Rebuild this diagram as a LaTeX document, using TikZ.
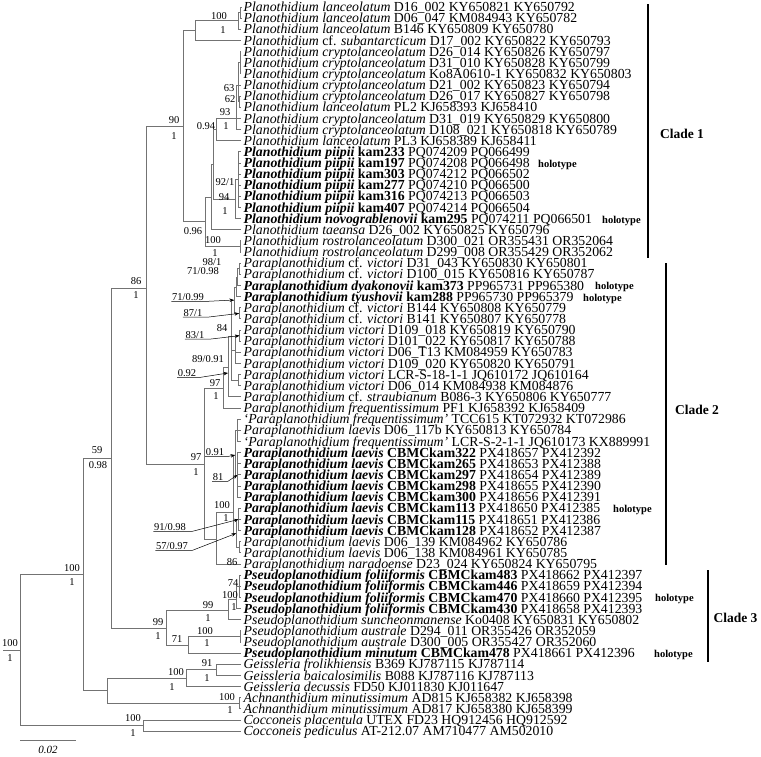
\documentclass[tikz,border=0pt]{standalone}
\usepackage{fontspec}
\setmainfont{Liberation Serif}
\usetikzlibrary{positioning,arrows.meta}

\begin{document}
\begin{tikzpicture}[x=1pt,y=-1pt,
    br/.style={draw=black!55,line width=0.9pt},
    taxon/.style={anchor=base west,inner sep=0pt,xshift=2.5pt,yshift=-4.6pt,font=\fontsize{13.8}{13.8}\selectfont},
    sup/.style={inner sep=0.5pt,font=\fontsize{10.5}{10.5}\selectfont},
    holo/.style={anchor=base west,inner sep=0pt,yshift=-4.4pt,font=\fontsize{10.5}{10.5}\selectfont\bfseries},
    pt/.style={draw=black,line width=0.5pt,-{Stealth[length=4.5pt,width=3.5pt]}},
    cbar/.style={line width=2.7pt},
    clade/.style={font=\fontsize{13.5}{13.5}\selectfont\bfseries}]

\useasboundingbox (0,0) rectangle (761,756);

\foreach \i/\txt in {
  1/{\textit{Planothidium lanceolatum} D16\_002 KY650821 KY650792},
  2/{\textit{Planothidium lanceolatum} D06\_047 KM084943 KY650782},
  3/{\textit{Planothidium lanceolatum} B146 KY650809 KY650780},
  4/{\textit{Planothidium} cf. \textit{subantarcticum} D17\_002 KY650822 KY650793},
  5/{\textit{Planothidium cryptolanceolatum} D26\_014 KY650826 KY650797},
  6/{\textit{Planothidium cryptolanceolatum} D31\_010 KY650828 KY650799},
  7/{\textit{Planothidium cryptolanceolatum} Ko8A0610-1 KY650832 KY650803},
  8/{\textit{Planothidium cryptolanceolatum} D21\_002 KY650823 KY650794},
  9/{\textit{Planothidium cryptolanceolatum} D26\_017 KY650827 KY650798},
  10/{\textit{Planothidium lanceolatum} PL2 KJ658393 KJ658410},
  11/{\textit{Planothidium cryptolanceolatum} D31\_019 KY650829 KY650800},
  12/{\textit{Planothidium cryptolanceolatum} D108\_021 KY650818 KY650789},
  13/{\textit{Planothidium lanceolatum} PL3 KJ658389 KJ658411},
  14/{\textbf{\textit{Planothidium piipii} kam233} PQ074209 PQ066499},
  15/{\textbf{\textit{Planothidium piipii} kam197} PQ074208 PQ066498},
  16/{\textbf{\textit{Planothidium piipii} kam303} PQ074212 PQ066502},
  17/{\textbf{\textit{Planothidium piipii} kam277} PQ074210 PQ066500},
  18/{\textbf{\textit{Planothidium piipii} kam316} PQ074213 PQ066503},
  19/{\textbf{\textit{Planothidium piipii} kam407} PQ074214 PQ066504},
  20/{\textbf{\textit{Planothidium novograblenovii} kam295} PQ074211 PQ066501},
  21/{\textit{Planothidium taeansa} D26\_002 KY650825 KY650796},
  22/{\textit{Planothidium rostrolanceolatum} D300\_021 OR355431 OR352064},
  23/{\textit{Planothidium rostrolanceolatum} D299\_008 OR355429 OR352062},
  24/{\textit{Paraplanothidium} cf. \textit{victori} D31\_043 KY650830 KY650801},
  25/{\textit{Paraplanothidium} cf. \textit{victori} D100\_015 KY650816 KY650787},
  26/{\textbf{\textit{Paraplanothidium dyakonovii} kam373} PP965731 PP965380},
  27/{\textbf{\textit{Paraplanothidium tyushovii} kam288} PP965730 PP965379},
  28/{\textit{Paraplanothidium} cf. \textit{victori} B144 KY650808 KY650779},
  29/{\textit{Paraplanothidium} cf. \textit{victori} B141 KY650807 KY650778},
  30/{\textit{Paraplanothidium victori} D109\_018 KY650819 KY650790},
  31/{\textit{Paraplanothidium victori} D101\_022 KY650817 KY650788},
  32/{\textit{Paraplanothidium victori} D06\_T13 KM084959 KY650783},
  33/{\textit{Paraplanothidium victori} D109\_020 KY650820 KY650791},
  34/{\textit{Paraplanothidium victori} LCR-S-18-1-1 JQ610172 JQ610164},
  35/{\textit{Paraplanothidium victori} D06\_014 KM084938 KM084876},
  36/{\textit{Paraplanothidium} cf. \textit{straubianum} B086-3 KY650806 KY650777},
  37/{\textit{Paraplanothidium frequentissimum} PF1 KJ658392 KJ658409},
  38/{\textit{‘Paraplanothidium frequentissimum’} TCC615 KT072932 KT072986},
  39/{\textit{Paraplanothidium laevis} D06\_117b KY650813 KY650784},
  40/{\textit{‘Paraplanothidium frequentissimum’} LCR-S-2-1-1 JQ610173 KX889991},
  41/{\textbf{\textit{Paraplanothidium laevis} CBMCkam322} PX418657 PX412392},
  42/{\textbf{\textit{Paraplanothidium laevis} CBMCkam265} PX418653 PX412388},
  43/{\textbf{\textit{Paraplanothidium laevis} CBMCkam297} PX418654 PX412389},
  44/{\textbf{\textit{Paraplanothidium laevis} CBMCkam298} PX418655 PX412390},
  45/{\textbf{\textit{Paraplanothidium laevis} CBMCkam300} PX418656 PX412391},
  46/{\textbf{\textit{Paraplanothidium laevis} CBMCkam113} PX418650 PX412385},
  47/{\textbf{\textit{Paraplanothidium laevis} CBMCkam115} PX418651 PX412386},
  48/{\textbf{\textit{Paraplanothidium laevis} CBMCkam128} PX418652 PX412387},
  49/{\textit{Paraplanothidium laevis} D06\_139 KM084962 KY650786},
  50/{\textit{Paraplanothidium laevis} D06\_138 KM084961 KY650785},
  51/{\textit{Paraplanothidium naradoense} D23\_024 KY650824 KY650795},
  52/{\textbf{\textit{Pseudoplanothidium foliiformis} CBMCkam483} PX418662 PX412397},
  53/{\textbf{\textit{Pseudoplanothidium foliiformis} CBMCkam446} PX418659 PX412394},
  54/{\textbf{\textit{Pseudoplanothidium foliiformis} CBMCkam470} PX418660 PX412395},
  55/{\textbf{\textit{Pseudoplanothidium foliiformis} CBMCkam430} PX418658 PX412393},
  56/{\textit{Pseudoplanothidium suncheonmanense} Ko0408 KY650831 KY650802},
  57/{\textit{Pseudoplanothidium australe} D294\_011 OR355426 OR352059},
  58/{\textit{Pseudoplanothidium australe} D300\_005 OR355427 OR352060},
  59/{\textbf{\textit{Pseudoplanothidium minutum} CBMCkam478} PX418661 PX412396},
  60/{\textit{Geissleria frolikhiensis} B369 KJ787115 KJ787114},
  61/{\textit{Geissleria baicalosimilis} B088 KJ787116 KJ787113},
  62/{\textit{Geissleria decussis} FD50 KJ011830 KJ011647},
  63/{\textit{Achnanthidium minutissimum} AD815 KJ658382 KJ658398},
  64/{\textit{Achnanthidium minutissimum} AD817 KJ658380 KJ658399},
  65/{\textit{Cocconeis placentula} UTEX FD23 HQ912456 HQ912592},
  66/{\textit{Cocconeis pediculus} AT-212.07 AM710477 AM502010}}
{
  \coordinate (t\i) at (241,{7+(\i-1)*11.14});
  \node[taxon] (l\i) at (t\i) {\txt};
}

\coordinate (rootstem) at (3,650);
\coordinate (root) at (20,650);
\coordinate (nA) at (83,574);
\coordinate (ncoc) at (143,725.6);
\coordinate (n59) at (111,458);
\coordinate (ngach) at (107,690.7);
\coordinate (n86) at (146,288);
\coordinate (nps) at (166,628.5);
\coordinate (n90) at (183,126.5);
\coordinate (n97b) at (204,464);
\coordinate (n100a) at (195,30.7);
\coordinate (n096) at (205,221.9);
\coordinate (nL) at (238,20.9);
\coordinate (nL12) at (240.5,12.6);
\coordinate (nro) at (240,246.5);
\coordinate (ny) at (211,197.3);
\coordinate (nz) at (213.5,164.7);
\coordinate (n094) at (216,129.4);
\coordinate (n93) at (236,118.4);
\coordinate (n63) at (238,85);
\coordinate (nc) at (240,62.7);
\coordinate (n62) at (239.5,101.7);
\coordinate (n94) at (235,199.2);
\coordinate (npii) at (238.5,179.7);
\coordinate (n97a) at (223,388.5);
\coordinate (n089) at (228,367);
\coordinate (n092) at (228,373);
\coordinate (nvt) at (231,336);
\coordinate (ntop) at (234,300);
\coordinate (n71c) at (236,287);
\coordinate (n71b) at (237.5,277.2);
\coordinate (n98) at (239.5,268.8);
\coordinate (n87) at (239,313.4);
\coordinate (n84) at (235.5,350);
\coordinate (n83) at (239.5,335.7);
\coordinate (nv2) at (238.5,380.2);
\coordinate (n100c) at (216,539.5);
\coordinate (nlae) at (233,512);
\coordinate (nl1) at (235,455);
\coordinate (n091) at (237,430.3);
\coordinate (n81) at (237.5,475);
\coordinate (n57) at (236,533.4);
\coordinate (n91) at (238.5,519.4);
\coordinate (n86b) at (239,547.3);
\coordinate (n99b) at (228,610);
\coordinate (nf100) at (236,599);
\coordinate (nf74) at (239.5,586.3);
\coordinate (n71d) at (188,645);
\coordinate (naus) at (240,636.4);
\coordinate (ngeis) at (186,678.2);
\coordinate (ng91) at (216,669.9);
\coordinate (nach) at (239,703.3);

\draw[br] (rootstem) -- (root);
\foreach \p/\c in {root/nA,root/ncoc,nA/n59,nA/ngach,n59/n86,n59/nps,
    n86/n90,n86/n97b,n90/n100a,n90/n096,n100a/nL,n100a/t4,nL/nL12,nL/t3,
    nL12/t1,nL12/t2,n096/ny,n096/nro,nro/t22,nro/t23,ny/nz,ny/t21,
    nz/n094,nz/n94,n094/n93,n094/t13,n93/n63,n93/t11,n93/t12,
    n63/nc,n63/t8,n63/n62,nc/t5,nc/t6,nc/t7,n62/t9,n62/t10,
    n94/npii,n94/t20,npii/t14,npii/t15,npii/t16,npii/t17,npii/t18,npii/t19,
    n97b/n97a,n97b/n100c,n97a/n089,n97a/t37,n089/nvt,n089/t36,
    nvt/ntop,nvt/n84,nvt/nv2,ntop/n71c,ntop/n87,n71c/n71b,n71c/t27,
    n71b/n98,n71b/t26,n98/t24,n98/t25,n87/t28,n87/t29,
    n84/n83,n84/t32,n84/t33,n83/t30,n83/t31,nv2/t34,nv2/t35,
    n100c/nlae,n100c/t51,nlae/nl1,nlae/n57,nl1/n091,nl1/n81,
    n091/t38,n091/t39,n091/t40,n81/t41,n81/t42,n81/t43,n81/t44,n81/t45,
    n57/n91,n57/n86b,n91/t46,n91/t47,n91/t48,n86b/t49,n86b/t50,
    nps/n99b,nps/n71d,n99b/nf100,n99b/t56,nf100/nf74,nf100/t55,
    nf74/t52,nf74/t53,nf74/t54,n71d/naus,n71d/t59,naus/t57,naus/t58,
    ngach/ngeis,ngach/nach,ngeis/ng91,ngeis/t62,ng91/t60,ng91/t61,
    nach/t63,nach/t64,ncoc/t65,ncoc/t66}
  \draw[br] (\p) |- (\c);

\foreach \x/\y/\s [count=\k] in {219/16/100,223/30/1,174/120/90,174/136/1,
    229/88/63,230/99/62,225/112/93,226/126/1,206/126/0.94,
    225/182/{92/1},224/197/94,225/211/1,193/231/0.96,213/240/100,215/253/1,
    136/281/86,136/295/1,212/262/{98/1},203/271/{71/0.98},222/328/84,
    208/359/{89/0.91},215/383/97,216/396/1,196/457/97,196/472/1,
    222/505/100,226/518/1,232/562/86,97/450/59,98/465/0.98,
    233/583/74,230/595/100,234/607/1,208/605/99,208/618/1,
    158/622/99,158/636/1,177/639/71,205/631/100,207/643/1,
    72/568/100,72/582/1,10/643/100,10/658/1,176/672/100,172/687/1,
    207/663/91,207/678/1,227/697/100,230/710/1,133/718/100,133/733/1}
  \node[sup] (s\k) at (\x,\y) {\s};

\node[sup] (a7199) at (188,297) {71/0.99};
\node[sup] (a871) at (193,313) {87/1};
\node[sup] (a831) at (195,335) {83/1};
\node[sup] (a092) at (187,373) {0.92};
\node[sup] (a091) at (215,452) {0.91};
\node[sup] (a81) at (218,477) {81};
\node[sup] (a9198) at (170,527) {91/0.98};
\node[sup] (a5797) at (172,546) {57/0.97};
\draw[pt] (a7199.south west) -- ([xshift=4pt]a7199.south east) -- (ntop);
\draw[pt] (a871.south west) -- ([xshift=4pt]a871.south east) -- (n87);
\draw[pt] (a831.south west) -- ([xshift=4pt]a831.south east) -- (n83);
\draw[pt] (a092.south west) -- ([xshift=4pt]a092.south east) -- (n092);
\draw[pt] (a091.south west) -- ([xshift=4pt]a091.south east) -- (nl1);
\draw[pt] (a81.south west) -- ([xshift=4pt]a81.south east) -- (n81);
\draw[pt] (a9198.south west) -- ([xshift=6pt]a9198.south east) -- (n91);
\draw[pt] (a5797.south west) -- ([xshift=4pt]a5797.south east) -- (n57);

\node[holo] (h15) at (538,0 |- t15) {holotype};
\node[holo] (h20) at (602,0 |- t20) {holotype};
\node[holo] (h26) at (595,0 |- t26) {holotype};
\node[holo] (h27) at (583,0 |- t27) {holotype};
\node[holo] (h46) at (613,0 |- t46) {holotype};
\node[holo] (h54) at (655,0 |- t54) {holotype};
\node[holo] (h59) at (654,0 |- t59) {holotype};

\draw[cbar] (648,4) -- (648,258);
\draw[cbar] (666,263) -- (666,565);
\draw[cbar] (708,570) -- (708,662);
\node[clade] (c1) at (682,134) {Clade 1};
\node[clade] (c2) at (697,410) {Clade 2};
\node[clade] (c3) at (735.5,618) {Clade 3};

\coordinate (sb1) at (20,740);
\coordinate (sb2) at (76,740);
\draw[br] (sb1) -- (sb2);
\node[sup,font=\fontsize{11}{11}\selectfont\itshape] (sbl) at (48,750) {0.02};

\end{tikzpicture}
\end{document}
